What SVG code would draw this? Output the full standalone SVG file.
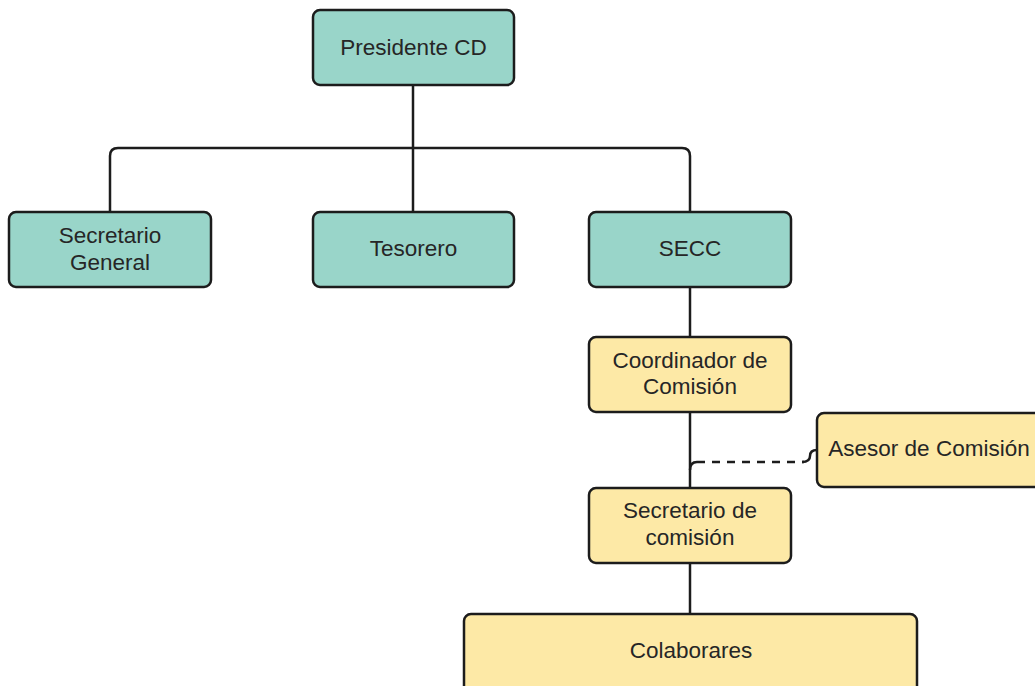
<svg xmlns="http://www.w3.org/2000/svg" width="1035" height="686" viewBox="0 0 1035 686">
<style>
.box{stroke:#1c1c1c;stroke-width:2.5}
.teal{fill:#99d5c9}
.yel{fill:#fde9a6}
text{font-family:"Liberation Sans",Arial,sans-serif;font-size:22.5px;fill:#262626;text-anchor:middle}
.ln{fill:none;stroke:#1c1c1c;stroke-width:2.5}
.dash{fill:none;stroke:#1c1c1c;stroke-width:2.5;stroke-dasharray:8 7}
</style>
<rect width="1035" height="686" fill="#ffffff"/>
<g id="connectors">
<path class="ln" d="M413,85 V148"/>
<path class="ln" d="M110,212 V156 Q110,148 118,148 H682 Q690,148 690,156 V212"/>
<path class="ln" d="M413,148 V212"/>
<path class="ln" d="M690,287 V337"/>
<path class="ln" d="M690,412 V488"/>
<path class="ln" d="M690,470 Q690,462 697,462"/>
<path class="dash" d="M697,462 H804"/>
<path class="ln" d="M802,462 Q810,462 810,456 Q810,450 817,450"/>
<path class="ln" d="M690,563 V614"/>
</g>
<g id="presidente">
<rect class="box teal" x="313" y="10" width="201" height="75" rx="7"/>
<text x="413.5" y="55">Presidente CD</text>
</g>
<g id="secretario-general">
<rect class="box teal" x="9" y="212" width="202" height="75" rx="7"/>
<text x="110" y="243">Secretario</text>
<text x="110" y="270">General</text>
</g>
<g id="tesorero">
<rect class="box teal" x="313" y="212" width="201" height="75" rx="7"/>
<text x="413.5" y="256">Tesorero</text>
</g>
<g id="secc">
<rect class="box teal" x="589" y="212" width="202" height="75" rx="7"/>
<text x="690" y="256">SECC</text>
</g>
<g id="coordinador">
<rect class="box yel" x="589" y="337" width="202" height="75" rx="7"/>
<text x="690" y="368">Coordinador de</text>
<text x="690" y="394">Comisión</text>
</g>
<g id="asesor">
<rect class="box yel" x="817" y="413" width="224" height="74" rx="7"/>
<text x="929" y="456">Asesor de Comisión</text>
</g>
<g id="secretario-comision">
<rect class="box yel" x="589" y="488" width="202" height="75" rx="7"/>
<text x="690" y="518">Secretario de</text>
<text x="690" y="545">comisión</text>
</g>
<g id="colaborares">
<rect class="box yel" x="464" y="614" width="453" height="80" rx="7"/>
<text x="691" y="658">Colaborares</text>
</g>
</svg>
